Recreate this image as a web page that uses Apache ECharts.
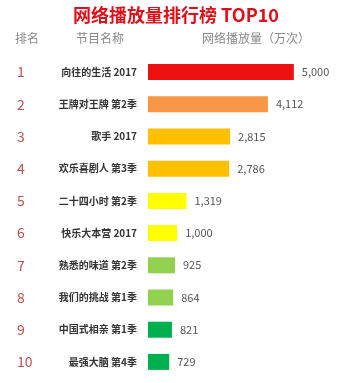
<!DOCTYPE html>
<html><head><meta charset="utf-8">
<script src="https://cdn.jsdelivr.net/npm/echarts@6/dist/echarts.min.js"></script>
<style>html,body{margin:0;padding:0;background:#fff}#c{width:338px;height:383px}</style>
</head><body><div id="c"></div>
<script>
var ranks = ['1','2','3','4','5','6','7','8','9','10'];
var programs = ['向往的生活 2017','王牌对王牌 第2季','歌手 2017','欢乐喜剧人 第3季','二十四小时 第2季','快乐大本营 2017','熟悉的味道 第2季','我们的挑战 第1季','中国式相亲 第1季','最强大脑 第4季'];
var views = [5000,4112,2815,2786,1319,1000,925,864,821,729];
var barColors = ['#ee1111','#f79646','#ffc000','#ffc000','#ffff00','#ffff00','#92d050','#92d050','#00b050','#00b050'];
var titleText = '网络播放量排行榜 TOP10';
var headers = ['排名','节目名称','网络播放量（万次）'];

var chart = echarts.init(document.getElementById('c'));
var sans = '"Noto Sans CJK SC", "Noto Sans", sans-serif';
chart.setOption({
  animation:false,
  backgroundColor:'#ffffff',
  title:{text:titleText,left:68,top:1,textStyle:{color:'#e0101a',fontSize:18,fontWeight:'bold',fontFamily:sans}},
  graphic:[
    {type:'text',left:15,top:32,style:{text:headers[0],fill:'#888',font:'12px '+sans}},
    {type:'text',left:76,top:32,style:{text:headers[1],fill:'#888',font:'12px '+sans}},
    {type:'text',left:202,top:32,style:{text:headers[2],fill:'#888',font:'12px '+sans}}
  ],
  grid:{left:148,right:15,top:56,bottom:5},
  xAxis:{type:'value',min:0,max:6000,show:false},
  yAxis:[
    {type:'category',data:programs,inverse:true,position:'left',
     axisLine:{show:false},axisTick:{show:false},
     axisLabel:{margin:11,color:'#333',fontSize:10,fontWeight:'bold',fontFamily:sans}},
    {type:'category',data:ranks,inverse:true,position:'left',
     axisLine:{show:false},axisTick:{show:false},
     axisLabel:{margin:131,align:'left',color:'#c0504d',fontSize:14,fontFamily:sans}}
  ],
  series:[{type:'bar',yAxisIndex:0,data:views.map(function(v,i){return {value:v,itemStyle:{color:barColors[i]}};}),
    barWidth:16,
    label:{show:true,position:'right',distance:8,color:'#555',fontSize:11,fontFamily:sans,
      formatter:function(p){return p.value.toLocaleString('en-US');}}}]
});
</script></body></html>
